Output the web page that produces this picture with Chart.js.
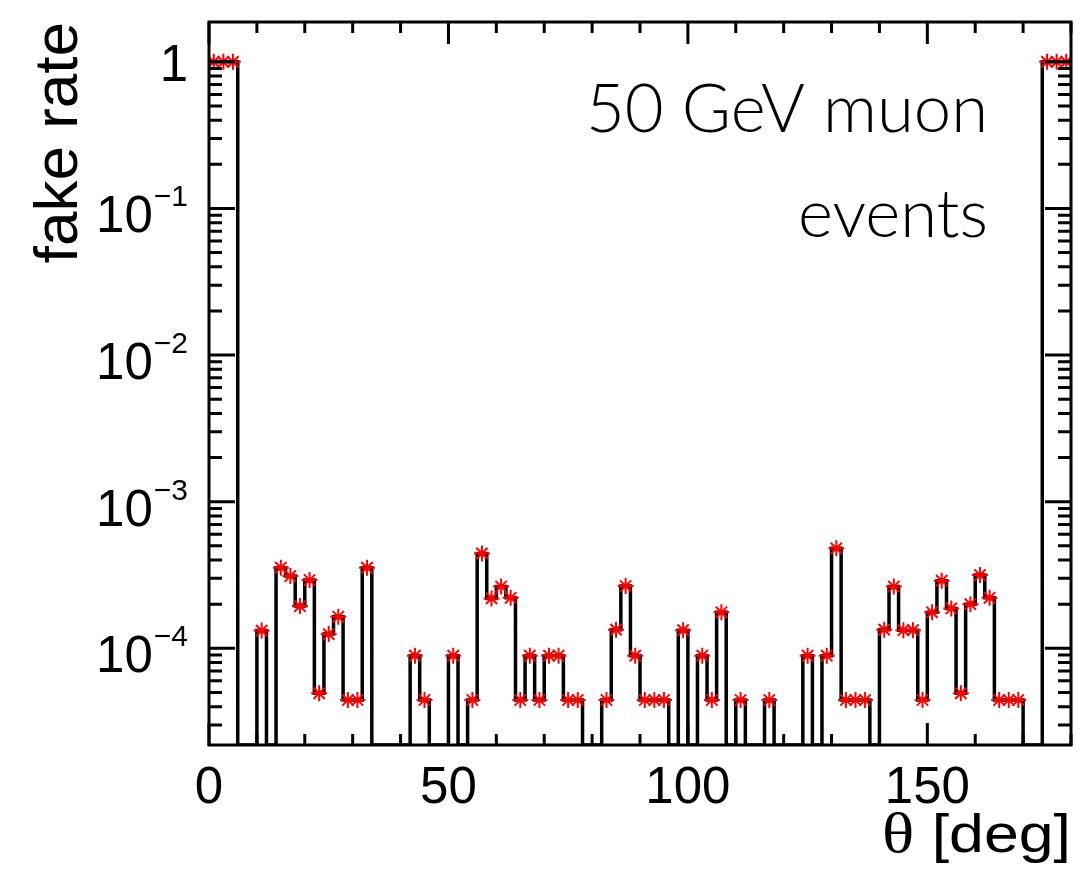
<!DOCTYPE html>
<html>
<head>
<meta charset="utf-8">
<script src="https://cdn.jsdelivr.net/npm/chart.js@4.4.1/dist/chart.umd.min.js"></script>
<style>
  html, body { margin: 0; padding: 0; background: #fff; }
  #wrap { width: 1081px; height: 886px; }
</style>
</head>
<body>
<div id="wrap"><canvas id="fakeChart"></canvas></div>
<script>
// histogram: 90 bins of 2 deg from 0 to 180
const binLow = 0;
const binWidth = 2;
const fakeRate = [
    1, 1, 1, 0, 0, 1.32e-4, 0, 3.55e-4, 3.11e-4, 1.94e-4,
    2.92e-4, 4.93e-5, 1.25e-4, 1.64e-4, 4.44e-5, 4.44e-5, 3.55e-4, 0, 0, 0,
    0, 8.9e-5, 4.44e-5, 0, 0, 8.9e-5, 0, 4.44e-5, 4.44e-4, 2.19e-4,
    2.64e-4, 2.21e-4, 4.44e-5, 8.9e-5, 4.44e-5, 8.9e-5, 8.9e-5, 4.44e-5, 4.44e-5, 0,
    0, 4.44e-5, 1.34e-4, 2.66e-4, 8.9e-5, 4.44e-5, 4.44e-5, 4.44e-5, 0, 1.33e-4,
    0, 8.9e-5, 4.44e-5, 1.76e-4, 0, 4.44e-5, 0, 0, 4.44e-5, 0,
    0, 0, 8.9e-5, 0, 8.9e-5, 4.81e-4, 4.44e-5, 4.44e-5, 4.44e-5, 0,
    1.34e-4, 2.64e-4, 1.33e-4, 1.33e-4, 4.44e-5, 1.76e-4, 2.89e-4, 1.87e-4, 4.93e-5, 2.0e-4,
    3.16e-4, 2.21e-4, 4.44e-5, 4.44e-5, 4.44e-5, 0, 0, 1, 1, 1
];

const xMin = 0;
const xMax = 180;
const yMin = 2.19e-5;
const yMax = 1.87;

const xMajorTicks = [0, 50, 100, 150];
const xMinorStep = 10;
const yMajorTicks = [1, 1e-1, 1e-2, 1e-3, 1e-4];
const yTickBase = ['1', '10', '10', '10', '10'];
const yTickExp = ['', '\u22121', '\u22122', '\u22123', '\u22124'];

const xTitle = ['\u03b8', ' [deg]'];
const yTitle = 'fake rate';
const infoLines = ['50 GeV muon', 'events'];

// outline of the histogram, empty bins sit on the axis floor
const stepPoints = [];
const markerPoints = [];
fakeRate.forEach((v, i) => {
    const lo = binLow + i * binWidth;
    const y = v > 0 ? v : yMin;
    stepPoints.push({x: lo, y: y});
    stepPoints.push({x: lo + binWidth, y: y});
    if (v > 0) markerPoints.push({x: lo + binWidth / 2, y: v});
});

const SANS = '"Liberation Sans", Arial, sans-serif';

const frameAndLabels = {
    id: 'frameAndLabels',
    afterDatasetsDraw(chart) {
        const {ctx, chartArea: a, scales: {x, y}} = chart;
        ctx.save();
        ctx.strokeStyle = '#000';
        ctx.lineWidth = 3;
        ctx.lineCap = 'butt';
        ctx.strokeRect(a.left, a.top, a.right - a.left, a.bottom - a.top);

        // ticks pointing inward, on all four sides
        ctx.beginPath();
        for (let v = xMin; v <= xMax; v += xMinorStep) {
            const px = x.getPixelForValue(v);
            const len = xMajorTicks.includes(v) ? 22 : 11;
            ctx.moveTo(px, a.bottom); ctx.lineTo(px, a.bottom - len);
            ctx.moveTo(px, a.top); ctx.lineTo(px, a.top + len);
        }
        for (let d = -5; d <= 0; d++) {
            for (let k = 1; k <= 9; k++) {
                const v = k * Math.pow(10, d);
                if (v < yMin || v > yMax) continue;
                const py = y.getPixelForValue(v);
                const len = k === 1 ? 26 : 13;
                ctx.moveTo(a.left, py); ctx.lineTo(a.left + len, py);
                ctx.moveTo(a.right, py); ctx.lineTo(a.right - len, py);
            }
        }
        ctx.stroke();

        ctx.fillStyle = '#000';
        ctx.textBaseline = 'alphabetic';

        // x tick labels
        ctx.font = '51px ' + SANS;
        ctx.textAlign = 'center';
        xMajorTicks.forEach(v => {
            ctx.fillText(String(v), x.getPixelForValue(v), 803);
        });

        // y tick labels with exponents
        const right = 188;
        yMajorTicks.forEach((v, i) => {
            const py = y.getPixelForValue(v);
            ctx.textAlign = 'left';
            ctx.font = '51px ' + SANS;
            const wBase = ctx.measureText(yTickBase[i]).width;
            ctx.font = '30px ' + SANS;
            const wExp = yTickExp[i] ? ctx.measureText(yTickExp[i]).width + 1 : 0;
            const x0 = right - wBase - wExp;
            ctx.font = '51px ' + SANS;
            if (yTickExp[i]) {
                ctx.fillText(yTickBase[i], x0, py + 24);
                ctx.font = '30px ' + SANS;
                ctx.fillText(yTickExp[i], x0 + wBase + 1, py - 2);
            } else {
                ctx.fillText(yTickBase[i], x0, py + 19);
            }
        });

        // x title, right aligned to the frame, stretched to the reference width
        ctx.font = '54px ' + SANS;
        const wRest = ctx.measureText(xTitle[1]).width;
        ctx.font = '58px "Liberation Serif", serif';
        const wTheta = ctx.measureText(xTitle[0]).width;
        const sx = 189 / (wRest + wTheta);
        ctx.save();
        ctx.translate(a.right - 189, 852);
        ctx.scale(sx, 1);
        ctx.textAlign = 'left';
        ctx.fillText(xTitle[0], 0, 0);
        ctx.font = '54px ' + SANS;
        ctx.fillText(xTitle[1], wTheta, 0);
        ctx.restore();

        // y title, rotated, ending at the top of the frame
        ctx.save();
        ctx.translate(77, a.top);
        ctx.rotate(-Math.PI / 2);
        ctx.textAlign = 'right';
        ctx.font = '62px ' + SANS;
        ctx.fillText(yTitle, 0, 0);
        ctx.restore();

        // info text top right
        ctx.textAlign = 'right';
        ctx.font = '300 67px Lato, "Open Sans", sans-serif';
        ctx.fillText(infoLines[0], 988, 132);
        ctx.fillText(infoLines[1], 988, 237);
        ctx.restore();
    }
};

const ctx = document.getElementById('fakeChart').getContext('2d');
new Chart(ctx, {
    type: 'scatter',
    data: {
        datasets: [
            {
                label: 'outline',
                data: stepPoints,
                showLine: true,
                borderColor: '#000',
                borderWidth: 3.5,
                borderJoinStyle: 'miter',
                pointRadius: 0,
                tension: 0,
                order: 2
            },
            {
                label: 'fake rate',
                data: markerPoints,
                pointStyle: 'star',
                pointRadius: 8,
                borderColor: '#ff0000',
                backgroundColor: '#ff0000',
                borderWidth: 2,
                order: 1
            }
        ]
    },
    options: {
        responsive: true,
        maintainAspectRatio: false,
        animation: false,
        layout: {
            padding: {left: 209, right: 4, top: 22, bottom: 141}
        },
        plugins: {
            legend: { display: false },
            tooltip: { enabled: false }
        },
        scales: {
            x: { type: 'linear', min: xMin, max: xMax, display: false },
            y: { type: 'logarithmic', min: yMin, max: yMax, display: false }
        }
    },
    plugins: [frameAndLabels]
});
</script>
</body>
</html>
